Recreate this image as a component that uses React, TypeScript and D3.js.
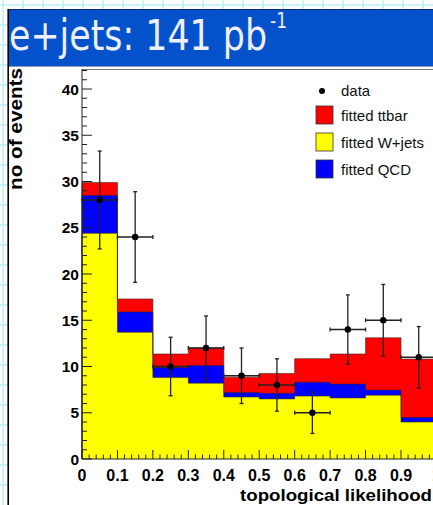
import React from "react";
import * as d3 from "d3";

// Bin lower edges of the topological likelihood histogram (width 0.1)
const binLow = [0, 0.1, 0.2, 0.3, 0.4, 0.5, 0.6, 0.7, 0.8, 0.9];
const binWidth = 0.1;

// Observed event counts
const dataCounts = [28, 24, 10, 12, 9, 8, 5, 14, 15, 11];

// Fitted components (stacked: W+jets, QCD, ttbar)
const wjets = [24.4, 13.7, 8.8, 8.2, 6.7, 6.5, 6.8, 6.6, 6.9, 4.0];
const qcd = [4.1, 2.2, 1.1, 1.9, 0.5, 0.6, 1.5, 1.5, 0.55, 0.5];
const ttbar = [1.4, 1.4, 1.45, 1.9, 1.65, 2.15, 2.55, 3.25, 5.65, 6.3];

const yTicks = [0, 5, 10, 15, 20, 25, 30, 35, 40];
const xTicks = [0, 0.1, 0.2, 0.3, 0.4, 0.5, 0.6, 0.7, 0.8, 0.9, 1];
const xTickLabels = ["0", "0.1", "0.2", "0.3", "0.4", "0.5", "0.6", "0.7", "0.8", "0.9", "1"];

const legendItems = [
  { label: "fitted ttbar", color: "#ff0000" },
  { label: "fitted W+jets", color: "#ffff00" },
  { label: "fitted QCD", color: "#0000ff" },
];

const W = 433;
const H = 505;

export default function App() {
  const x = d3.scaleLinear().domain([0, 0.9]).range([82, 401]);
  const y = d3.scaleLinear().domain([0, 40]).range([459, 89]);
  const frameTop = 69;
  const frameRight = x(1);

  const rows = binLow.map((lo, i) => ({ lo, wjets: wjets[i], qcd: qcd[i], ttbar: ttbar[i] }));
  const stack = d3.stack<any>().keys(["wjets", "qcd", "ttbar"])(rows);
  const fills: Record<string, string> = { wjets: "#ffff00", qcd: "#0000ff", ttbar: "#ff0000" };

  // Each layer drawn as a step histogram of its cumulative height, from the top layer down
  const layers = stack
    .map((s) => ({
      key: s.key,
      pts: s.flatMap((d, i) => [
        [binLow[i], d[1]] as [number, number],
        [binLow[i] + binWidth, d[1]] as [number, number],
      ]),
    }))
    .reverse();

  const area = d3
    .area<[number, number]>()
    .x((d) => x(d[0]))
    .y0(y(0))
    .y1((d) => y(d[1]));
  const line = d3
    .line<[number, number]>()
    .x((d) => x(d[0]))
    .y((d) => y(d[1]));

  const gridX = d3.range(3, W, 20);
  const gridY = d3.range(5, H, 20);

  const yMinor = d3.range(0, 43, 1);
  const xMinor = d3.range(0, 51, 1).map((k) => k * 0.02);

  return (
    <svg
      width={W}
      height={H}
      style={{ position: "absolute", left: 0, top: 0, display: "block" }}
      fontFamily="'Liberation Sans', Arial, sans-serif"
    >
      {/* page background grid */}
      <rect x={0} y={0} width={W} height={H} fill="#ffffff" />
      {gridX.map((gx) => (
        <line key={"gx" + gx} x1={gx} x2={gx} y1={0} y2={H} stroke="#b8f2f6" strokeWidth={1.5} />
      ))}
      {gridY.map((gy) => (
        <line key={"gy" + gy} x1={0} x2={W} y1={gy} y2={gy} stroke="#b8f2f6" strokeWidth={1.5} />
      ))}

      {/* slide panel */}
      <rect x={8} y={9} width={W - 8} height={H - 9} fill="#ffffff" />
      <rect x={8} y={9} width={W - 8} height={57} fill="#0352cb" />
      <line x1={8} x2={W} y1={9.5} y2={9.5} stroke="#0a2a6a" strokeWidth={1.2} />
      <line x1={8} x2={W} y1={66.5} y2={66.5} stroke="#8a9ab8" strokeWidth={1} />
      <line x1={8.2} x2={8.2} y1={9} y2={H} stroke="#000" strokeWidth={1.6} />
      <text
        x={9}
        y={50}
        fill="#eef0ff"
        fontSize={42}
        fontFamily="'DejaVu Sans', sans-serif"
        textLength={258}
        lengthAdjust="spacingAndGlyphs"
      >
        e+jets: 141 pb
      </text>
      <text
        x={270}
        y={28}
        fill="#eef0ff"
        fontSize={22}
        fontFamily="'DejaVu Sans', sans-serif"
        textLength={17}
        lengthAdjust="spacingAndGlyphs"
      >
        -1
      </text>

      {/* stacked histogram */}
      {layers.map((l) => (
        <path key={l.key} d={area(l.pts) || ""} fill={fills[l.key]} />
      ))}
      {layers.map((l) => (
        <path
          key={"o" + l.key}
          d={line([[0, 0], ...l.pts, [1, 0]]) || ""}
          fill="none"
          stroke="#3a2a20"
          strokeWidth={0.8}
          strokeOpacity={0.75}
        />
      ))}

      {/* frame */}
      <line x1={82} x2={frameRight} y1={frameTop + 0.5} y2={frameTop + 0.5} stroke="#777" strokeWidth={1} />
      <line x1={82} x2={82} y1={frameTop} y2={y(0)} stroke="#222" strokeWidth={1} />
      <line x1={82} x2={frameRight} y1={y(0)} y2={y(0)} stroke="#222" strokeWidth={1} />

      {/* y axis ticks */}
      {yMinor.map((v) => (
        <line
          key={"ym" + v}
          x1={82}
          x2={82 + (v % 5 === 0 ? 10 : 5)}
          y1={y(v)}
          y2={y(v)}
          stroke="#222"
          strokeWidth={1}
        />
      ))}
      {yTicks.map((v) => (
        <text key={"yl" + v} x={79} y={y(v) + 5.5} textAnchor="end" fontSize={15.5} fontWeight="bold" fill="#000">
          {v}
        </text>
      ))}

      {/* x axis ticks */}
      {xMinor.map((v, k) => (
        <line
          key={"xm" + k}
          x1={x(v)}
          x2={x(v)}
          y1={y(0)}
          y2={y(0) - (k % 5 === 0 ? 9 : 4.5)}
          stroke="#222"
          strokeWidth={1}
        />
      ))}
      {xTicks.map((v, i) => (
        <text key={"xl" + i} x={x(v)} y={481} textAnchor="middle" fontSize={16} fontWeight="bold" fill="#000">
          {xTickLabels[i]}
        </text>
      ))}

      {/* data points with statistical errors */}
      {dataCounts.map((n, i) => {
        const cx = x(binLow[i] + binWidth / 2);
        const err = Math.sqrt(n);
        const x0 = x(binLow[i]);
        const x1 = x(binLow[i] + binWidth);
        const yHi = y(n + err);
        const yLo = y(n - err);
        const cy = y(n);
        return (
          <g key={"d" + i} stroke="#222" strokeWidth={1.3}>
            <line x1={cx} x2={cx} y1={yHi} y2={yLo} />
            <line x1={cx - 2} x2={cx + 2} y1={yHi} y2={yHi} />
            <line x1={cx - 2} x2={cx + 2} y1={yLo} y2={yLo} />
            <line x1={x0} x2={x1} y1={cy} y2={cy} />
            <line x1={x0} x2={x0} y1={cy - 2} y2={cy + 2} />
            <line x1={x1} x2={x1} y1={cy - 2} y2={cy + 2} />
            <circle cx={cx} cy={cy} r={3.2} fill="#000" stroke="none" />
          </g>
        );
      })}

      {/* axis titles */}
      <text
        transform="translate(22,129) rotate(-90)"
        textAnchor="middle"
        fontSize={18}
        fontWeight="bold"
        fill="#000"
        textLength={122}
        lengthAdjust="spacingAndGlyphs"
      >
        no of events
      </text>
      <text
        x={432}
        y={501}
        textAnchor="end"
        fontSize={16}
        fontWeight="bold"
        fill="#000"
        textLength={192}
        lengthAdjust="spacingAndGlyphs"
      >
        topological likelihood
      </text>

      {/* legend */}
      <circle cx={322} cy={91} r={3} fill="#000" />
      <text x={341} y={96} fontSize={15} fill="#111">
        data
      </text>
      {legendItems.map((it, i) => (
        <g key={it.label}>
          <rect x={316} y={106 + i * 27} width={17} height={18} fill={it.color} stroke="#333" strokeWidth={0.8} />
          <text x={341} y={121 + i * 27} fontSize={15} fill="#111">
            {it.label}
          </text>
        </g>
      ))}
    </svg>
  );
}
